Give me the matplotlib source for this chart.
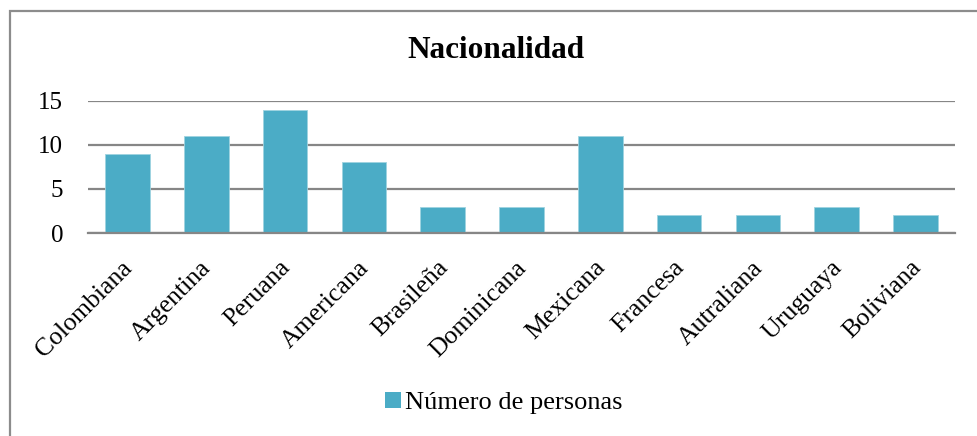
import matplotlib
matplotlib.use("Agg")
import matplotlib.pyplot as plt
from matplotlib.patches import Rectangle, Patch
from matplotlib.transforms import ScaledTranslation

categories = ["Colombiana", "Argentina", "Peruana", "Americana", "Brasileña", "Dominicana",
              "Mexicana", "Francesa", "Autraliana", "Uruguaya", "Boliviana"]
values = [9, 11, 14, 8, 3, 3, 11, 2, 2, 3, 2]
yticks = [0, 5, 10, 15]
series_name = "Número de personas"
title = "Nacionalidad"

plt.rcParams['font.family'] = ['Liberation Serif', 'DejaVu Serif']

fig = plt.figure(figsize=(9.77, 4.36), dpi=100)
ax = fig.add_axes([88/977, 1-233/436, (955-88)/977, (233-100.7)/436])

color = "#4BACC6"
x = list(range(len(categories)))
ax.bar(x, values, width=0.566, color=color, edgecolor="#9fd3e0", linewidth=0.6, zorder=3)
ax.set_xlim(-0.5, len(categories)-0.5)
ax.set_ylim(0, 15)
ax.set_yticks(yticks)
ax.set_yticklabels([str(v) for v in yticks], fontsize=18)
ax.tick_params(axis='y', length=0, pad=18)
ax.set_xticks(x)
ax.set_xticklabels(categories, rotation=45, ha='right', rotation_mode='anchor', fontsize=18.5)
ax.tick_params(axis='x', length=0, pad=17)
offset = ScaledTranslation(-6/100, 0, fig.dpi_scale_trans)
for lbl in ax.get_xticklabels():
    lbl.set_transform(lbl.get_transform() + offset)
ax.grid(axis='y', color="#868686", linewidth=1.6, zorder=0)
for s in ['top', 'right', 'left']:
    ax.spines[s].set_visible(False)
ax.spines['bottom'].set_color("#868686")
ax.spines['bottom'].set_linewidth(1.6)
ax.spines['bottom'].set_zorder(4)

fig.text(496/977, 1-51/436, title, ha='center', va='center', fontsize=22.5, fontweight='bold')

handle = Patch(facecolor=color, edgecolor='none')
fig.legend([handle], [series_name], loc='center', bbox_to_anchor=(504/977, 1-403/436),
           frameon=False, fontsize=19, handlelength=0.6, handleheight=0.6, handletextpad=0.15)

fig.patches.append(Rectangle((10/977, -0.1), 1.2, 1.1-11/436, transform=fig.transFigure,
                             fill=False, edgecolor="#8c8c8c", linewidth=1.6))

fig.savefig("out.png", dpi=100)
